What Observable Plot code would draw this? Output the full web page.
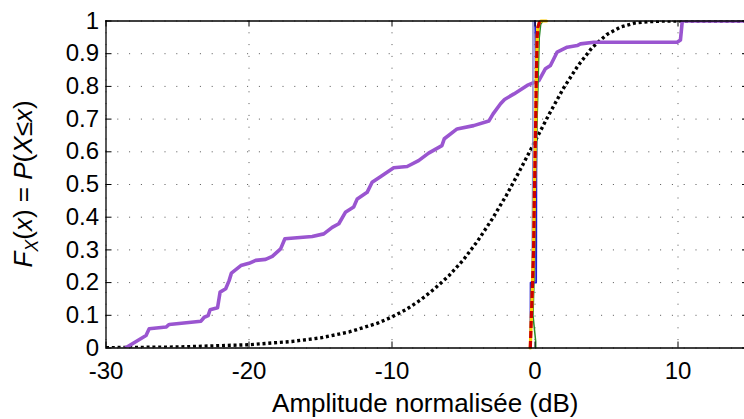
<!DOCTYPE html>
<html>
<head>
<meta charset="utf-8">
<script src="https://cdn.jsdelivr.net/npm/d3@7"></script>
<script src="https://cdn.jsdelivr.net/npm/@observablehq/plot@0.6"></script>
<style>
  html, body { margin: 0; padding: 0; background: #fff; overflow: hidden; }
</style>
</head>
<body>
<div id="chart"></div>
<script>
// ---- data ----
const xTicks = [-30, -20, -10, 0, 10];
const yTicks = [0, 0.1, 0.2, 0.3, 0.4, 0.5, 0.6, 0.7, 0.8, 0.9, 1];
const xLabel = "Amplitude normalisée (dB)";

// purple empirical CDF
const purpleX = [-28.65, -27.2, -26.98, -25.8, -25.58, -23.36, -23.13, -22.86, -22.72, -22.2, -22.02, -21.63, -21.39, -21.23, -20.57, -20.0, -19.53, -18.84, -18.37, -17.79, -17.49, -15.58, -14.77, -14.18, -13.72, -13.26, -12.68, -12.43, -11.74, -11.39, -10.81, -9.88, -8.94, -8.14, -7.44, -6.51, -6.34, -5.45, -4.29, -3.23, -2.93, -2.41, -2.13, -1.47, -0.55, 0.27, 0.73, 1.08, 1.55, 2.25, 2.95, 3.18, 4.11, 9.94, 10.17, 10.29, 10.35, 15];
const purpleY = [0, 0.038, 0.059, 0.064, 0.072, 0.082, 0.094, 0.099, 0.117, 0.123, 0.171, 0.181, 0.206, 0.229, 0.252, 0.259, 0.268, 0.271, 0.28, 0.303, 0.334, 0.341, 0.349, 0.369, 0.38, 0.415, 0.431, 0.456, 0.476, 0.507, 0.524, 0.551, 0.555, 0.573, 0.596, 0.619, 0.64, 0.67, 0.68, 0.694, 0.716, 0.747, 0.76, 0.777, 0.803, 0.818, 0.854, 0.864, 0.905, 0.92, 0.925, 0.93, 0.935, 0.935, 0.942, 0.996, 1, 1];

// black dotted CDF
const dotX = [-30, -25, -20, -17, -15, -13, -11, -10, -9, -8, -7, -6, -5, -4, -3, -2, -1, 0, 1, 2, 3, 4, 5, 6, 7, 8, 9, 15];
const dotY = [0.001, 0.003, 0.010, 0.020, 0.031, 0.049, 0.076, 0.095, 0.118, 0.147, 0.182, 0.222, 0.270, 0.328, 0.394, 0.467, 0.548, 0.632, 0.716, 0.795, 0.863, 0.919, 0.958, 0.982, 0.994, 0.998, 1.0, 1.0];

// near-vertical CDFs around 0 dB
const redX = [-0.33, -0.25, -0.17, -0.1, -0.03, 0.05, 0.1, 0.15, 0.2, 0.3, 0.42];
const redY = [0, 0.1, 0.2, 0.3, 0.5, 0.7, 0.85, 0.95, 0.98, 0.995, 1];
const yellowX = [-0.33, -0.25, -0.17, -0.1, -0.03, 0.05, 0.1, 0.15, 0.2, 0.3, 0.42, 0.8];
const yellowY = [0, 0.1, 0.2, 0.3, 0.5, 0.7, 0.85, 0.95, 0.98, 0.995, 1, 1];
const blueX = [-0.33, -0.32, -0.31, 0.08, 0.09, 0.1, 0.02, 0.0];
const blueY = [0, 0.02, 0.2, 0.2, 0.33, 0.6, 0.97, 1];
const grayX = [-0.3, -0.2, -0.15, -0.14];
const grayY = [0, 0.3, 0.6, 1];
const greenX = [0.05, 0.05, -0.14, -0.07, 0.0, 0.07, 0.15, 0.24, 0.3, 0.4, 0.55];
const greenY = [0, 0.02, 0.1, 0.2, 0.3, 0.5, 0.7, 0.85, 0.95, 0.99, 1];

const pts = (xs, ys) => xs.map((x, i) => ({x, y: ys[i]}));

const W = 744, H = 419;
const mL = 105.5, mR = 0, mT = 20.5, mB = 71.5;
const innerW = W - mL - mR, innerH = H - mT - mB;

const svg = Plot.plot({
  width: W,
  height: H,
  marginLeft: mL,
  marginRight: mR,
  marginTop: mT,
  marginBottom: mB,
  style: {fontFamily: "'Liberation Sans', Arial, Helvetica, sans-serif", fontSize: "24px", background: "#fff", color: "#000"},
  x: {domain: [-30, 14.65]},
  y: {domain: [0, 1]},
  marks: [
    Plot.gridX(xTicks, {stroke: "#555", strokeOpacity: 1, strokeDasharray: "1,10.8", strokeWidth: 1}),
    Plot.gridY(yTicks, {stroke: "#555", strokeOpacity: 1, strokeDasharray: "1,10.8", strokeWidth: 1}),
    Plot.line(pts(dotX, dotY), {x: "x", y: "y", stroke: "#000", strokeWidth: 3.4, strokeDasharray: "3,2.8", strokeLinecap: "butt", clip: true}),
    Plot.line(pts(purpleX, purpleY), {x: "x", y: "y", stroke: "#9a55d0", strokeWidth: 3.6, clip: true}),
    Plot.line(pts(grayX, grayY), {x: "x", y: "y", stroke: "#8a8ad0", strokeWidth: 1.5}),
    Plot.line(pts(greenX, greenY), {x: "x", y: "y", stroke: "#2a8a2a", strokeWidth: 1.5}),
    Plot.line(pts(blueX, blueY), {x: "x", y: "y", stroke: "#2020d0", strokeWidth: 1.8}),
    Plot.line(pts(yellowX, yellowY), {x: "x", y: "y", stroke: "#ffcc00", strokeWidth: 3.2}),
    Plot.line(pts(redX, redY), {x: "x", y: "y", stroke: "#cc0000", strokeWidth: 3.2, strokeDasharray: "7,3", strokeLinecap: "butt"}),
    // axes box
    Plot.ruleY([0, 1], {stroke: "#000", strokeWidth: 1.3}),
    Plot.ruleX([-30], {stroke: "#000", strokeWidth: 1.3}),
    // inward ticks
    Plot.tickX(xTicks, {x: d => d, insetTop: innerH - 6, stroke: "#000"}),
    Plot.tickX(xTicks, {x: d => d, insetBottom: innerH - 6, stroke: "#000"}),
    Plot.tickY(yTicks, {y: d => d, insetRight: innerW - 6, stroke: "#000"}),
    Plot.tickY(yTicks, {y: d => d, insetLeft: innerW - 2, stroke: "#000"}),
    Plot.axisX(xTicks, {tickSize: 0, tickPadding: 14, fontSize: 24, label: null, tickFormat: d => String(d)}),
    Plot.axisY(yTicks, {tickSize: 0, tickPadding: 7, fontSize: 24, label: null, tickFormat: d => String(d)}),
    Plot.text([xLabel], {text: d => d, frameAnchor: "bottom", dy: 56, fontSize: 26, textAnchor: "middle", lineAnchor: "middle"})
  ]
});

// y-axis label with italics and subscript
const t = d3.select(svg).append("text")
  .attr("transform", `translate(32,${mT + innerH / 2}) rotate(-90)`)
  .attr("text-anchor", "middle")
  .attr("font-size", 26)
  .attr("fill", "#000");
t.append("tspan").attr("font-style", "italic").text("F");
t.append("tspan").attr("font-style", "italic").attr("font-size", 18).attr("dy", 6).text("X");
t.append("tspan").attr("dy", -6).text("(");
t.append("tspan").attr("font-style", "italic").text("x");
t.append("tspan").text(") = ");
t.append("tspan").attr("font-style", "italic").text("P");
t.append("tspan").text("(");
t.append("tspan").attr("font-style", "italic").text("X");
t.append("tspan").text("≤");
t.append("tspan").attr("font-style", "italic").text("x");
t.append("tspan").text(")");

document.getElementById("chart").appendChild(svg);
</script>
</body>
</html>
